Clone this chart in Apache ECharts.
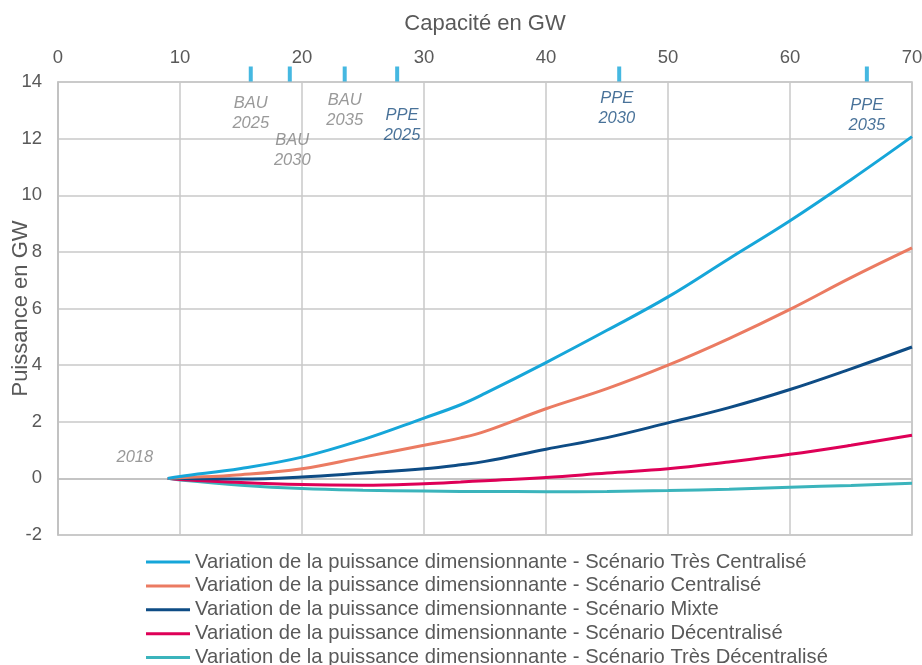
<!DOCTYPE html>
<html>
<head>
<meta charset="utf-8">
<script src="https://cdn.jsdelivr.net/npm/echarts@6/dist/echarts.min.js"></script>
<style>
html,body{margin:0;padding:0;background:#fff;}
#chart{width:922px;height:665px;}
</style>
</head>
<body>
<div id="chart"></div>
<script>
// Capacity (GW) sample points
const capacity = [9, 10, 15, 20, 25, 30, 33, 35, 40, 45, 50, 55, 60, 65, 70];
const tresCentralise = [0, 0.07, 0.35, 0.75, 1.37, 2.13, 2.6, 3.0, 4.09, 5.23, 6.41, 7.76, 9.1, 10.55, 12.07];
const centralise = [0, 0.02, 0.13, 0.34, 0.75, 1.17, 1.43, 1.66, 2.46, 3.17, 4.0, 4.94, 5.97, 7.09, 8.14];
const mixte = [0, 0, -0.02, 0.05, 0.19, 0.34, 0.48, 0.6, 1.03, 1.44, 1.96, 2.5, 3.14, 3.87, 4.64];
const decentralise = [0, -0.04, -0.15, -0.22, -0.24, -0.19, -0.13, -0.08, 0.03, 0.19, 0.34, 0.58, 0.85, 1.17, 1.52];
const tresDecentralise = [0, -0.06, -0.24, -0.36, -0.42, -0.45, -0.46, -0.46, -0.47, -0.46, -0.43, -0.38, -0.31, -0.25, -0.17];

const seriesNames = [
  'Variation de la puissance dimensionnante - Scénario Très Centralisé',
  'Variation de la puissance dimensionnante - Scénario Centralisé',
  'Variation de la puissance dimensionnante - Scénario Mixte',
  'Variation de la puissance dimensionnante - Scénario Décentralisé',
  'Variation de la puissance dimensionnante - Scénario Très Décentralisé'
];
const seriesColors = ['#16A6D9', '#EB7B62', '#0E4C85', '#DE0057', '#3BB4BC'];
const seriesValues = [tresCentralise, centralise, mixte, decentralise, tresDecentralise];

// Year markers on the capacity axis
const markerCapacity = [15.8, 19.0, 23.5, 27.8, 46.0, 66.3];
const bauLabels = [[15.8, 12.9, 'BAU\n2025'], [19.2, 11.6, 'BAU\n2030'], [23.5, 13.0, 'BAU\n2035']];
const ppeLabels = [[28.2, 12.47, 'PPE\n2025'], [45.8, 13.07, 'PPE\n2030'], [66.3, 12.83, 'PPE\n2035']];
const startLabel = [[6.3, 0.74, '2018']];

const xTicks = { min: 0, max: 70, interval: 10 };
const yTicks = { min: -2, max: 14, interval: 2 };

const FONT = '"Liberation Sans", Arial, sans-serif';
const TXT = '#595959';

const chart = echarts.init(document.getElementById('chart'), null, { renderer: 'canvas' });

const lineSeries = seriesNames.map((name, i) => ({
  name: name,
  type: 'line',
  data: capacity.map((c, j) => [c, seriesValues[i][j]]),
  smooth: 0.4,
  showSymbol: false,
  symbol: 'none',
  lineStyle: { color: seriesColors[i], width: 3 },
  itemStyle: { color: seriesColors[i] },
  z: 5 - i + 2
}));

function textSeries(data, color) {
  return {
    type: 'scatter',
    data: data,
    symbolSize: 0,
    silent: true,
    label: {
      show: true,
      position: 'inside',
      formatter: p => p.data[2],
      color: color,
      fontFamily: FONT,
      fontStyle: 'italic',
      fontSize: 16.5,
      lineHeight: 20,
      align: 'center',
      verticalAlign: 'middle'
    },
    z: 10
  };
}

const option = {
  backgroundColor: '#ffffff',
  animation: false,
  textStyle: { fontFamily: FONT },
  grid: {
    left: 58, right: 10, top: 82, bottom: 130,
    outerBoundsMode: 'none',
    containLabel: false,
    show: true, borderColor: '#BFBFBF', borderWidth: 1.5
  },
  legend: {
    data: seriesNames,
    orient: 'vertical',
    left: 141,
    top: 547,
    height: 200,
    itemWidth: 44,
    itemHeight: 3,
    itemGap: 3.9,
    icon: 'rect',
    textStyle: { color: TXT, fontSize: 20.2, fontFamily: FONT, lineHeight: 19 },
    selectedMode: false
  },
  xAxis: {
    type: 'value',
    position: 'top',
    min: xTicks.min, max: xTicks.max, interval: xTicks.interval,
    name: 'Capacité en GW',
    nameLocation: 'middle',
    nameGap: 47,
    nameMoveOverlap: false,
    nameTextStyle: { color: TXT, fontSize: 22, fontFamily: FONT },
    axisLine: { show: true, lineStyle: { color: '#BFBFBF', width: 1.5 } },
    axisTick: { show: false },
    axisLabel: { color: TXT, fontSize: 18.5, fontFamily: FONT, margin: 15 },
    splitLine: { show: true, lineStyle: { color: '#C8C8C8', width: 1.5 } }
  },
  yAxis: {
    type: 'value',
    min: yTicks.min, max: yTicks.max, interval: yTicks.interval,
    name: 'Puissance en GW',
    nameLocation: 'middle',
    nameRotate: 90,
    nameGap: 26,
    nameMoveOverlap: false,
    nameTextStyle: { color: TXT, fontSize: 22, fontFamily: FONT },
    axisLine: { show: true, lineStyle: { color: '#BFBFBF', width: 1.5 } },
    axisTick: { show: false },
    axisLabel: { color: TXT, fontSize: 18.5, fontFamily: FONT, margin: 16 },
    splitLine: { show: true, lineStyle: { color: '#C8C8C8', width: 1.5 } }
  },
  series: [
    ...lineSeries,
    {
      type: 'scatter',
      data: markerCapacity.map(c => [c, yTicks.max]),
      symbol: 'rect',
      symbolSize: [4, 15],
      symbolOffset: [0, -8],
      clip: false,
      silent: true,
      itemStyle: { color: '#16A6D9' },
      z: 12
    },
    textSeries(bauLabels, '#808080'),
    textSeries(ppeLabels, '#1B4F80'),
    textSeries(startLabel, '#808080')
  ]
};
chart.setOption(option);
</script>
</body>
</html>
